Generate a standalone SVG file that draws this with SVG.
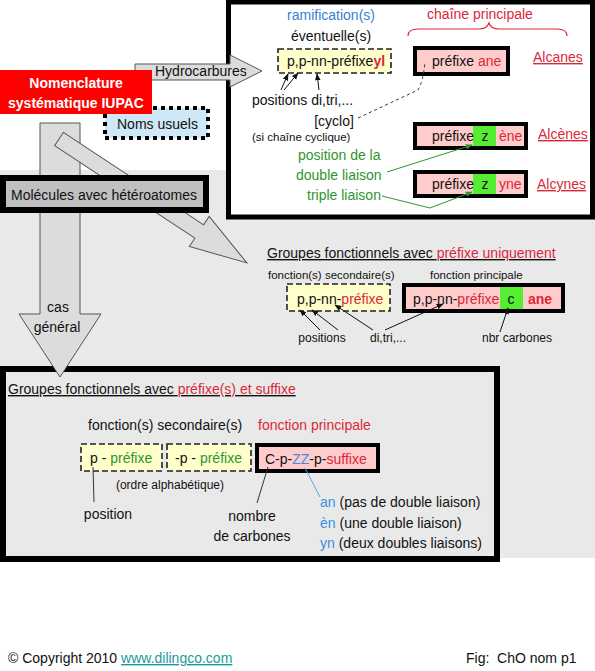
<svg xmlns="http://www.w3.org/2000/svg" width="595" height="671" viewBox="0 0 595 671">
<style>
text{font-family:"Liberation Sans",Arial,sans-serif;font-size:14px;fill:#111}
.s{font-size:11.5px}
.m{font-size:12px}
.r{fill:#d9283a}
.g{fill:#2e962e}
.b{fill:#3a7fd0}
.u{text-decoration:underline}
.c{text-anchor:middle}
.bigarrow{fill:#dcdcdc;stroke:#555;stroke-width:1}
.yel{fill:#ffffcc;stroke:#222;stroke-width:1.6;stroke-dasharray:6 3}
.pink{fill:#ffcccc;stroke:#000;stroke-width:4}
.green{fill:#55ee33}
.ln{fill:none;stroke:#111;stroke-width:1}
</style>
<defs>
<marker id="ah" viewBox="0 0 10 10" refX="9" refY="5" markerWidth="7" markerHeight="7" markerUnits="userSpaceOnUse" orient="auto"><path d="M0,1 L10,5 L0,9 Z" fill="#111"/></marker>
<marker id="ahg" viewBox="0 0 10 10" refX="9" refY="5" markerWidth="7" markerHeight="7" markerUnits="userSpaceOnUse" orient="auto"><path d="M0,1 L10,5 L0,9 Z" fill="#2e962e"/></marker>
</defs>
<rect width="595" height="671" fill="#fff"/>
<rect x="0" y="170" width="595" height="388" fill="#e9e9e9"/>

<g id="hydrocarbures-box">
<rect x="228.5" y="2" width="364" height="215" fill="#fff" stroke="#000" stroke-width="5"/>
<text x="331" y="20" class="c b">ramification(s)</text>
<text x="331" y="41" class="c">éventuelle(s)</text>
<rect x="278" y="49" width="113" height="24" class="yel"/>
<text x="287" y="66">p,p-nn-préfixe<tspan class="r" font-weight="bold">yl</tspan></text>
<text x="252" y="105">positions di,tri,...</text>
<text x="334" y="126" class="c">[cyclo]</text>
<text x="252" y="141" class="s">(si chaîne cyclique)</text>
<text x="480" y="19" class="c r">chaîne principale</text>
<path d="M408,36 Q408,29 418,29 L479,29 Q487,29 489,23 Q491,29 499,29 L557,29 Q567,29 567,36" fill="none" stroke="#d9283a" stroke-width="1.2"/>
<g id="alcanes">
<rect x="415" y="48" width="93" height="26" class="pink"/>
<text x="432" y="66">préfixe <tspan class="r">ane</tspan></text>
<text x="533" y="62" class="r u">Alcanes</text>
</g>
<g id="alcenes">
<rect x="415" y="124" width="111" height="24" class="pink"/>
<rect x="473" y="126" width="23" height="20" class="green"/>
<text x="432" y="141">préfixe</text>
<text x="485" y="141" class="c">z</text>
<text x="499" y="141" class="r">ène</text>
<text x="538" y="139" class="r u">Alcènes</text>
</g>
<g id="alcynes">
<rect x="415" y="172" width="111" height="24" class="pink"/>
<rect x="473" y="174" width="23" height="20" class="green"/>
<text x="432" y="189">préfixe</text>
<text x="485" y="189" class="c">z</text>
<text x="499" y="189" class="r">yne</text>
<text x="537" y="189" class="r u">Alcynes</text>
</g>
<text x="298" y="160" class="g">position de la</text>
<text x="296" y="180" class="g">double liaison</text>
<text x="307" y="200" class="g">triple liaison</text>
</g>

<g id="groupes-suffixe">
<rect x="3" y="369" width="494" height="190" fill="#e9e9e9" stroke="#000" stroke-width="6"/>
<text x="8" y="394" class="u">Groupes fonctionnels avec <tspan class="r">préfixe(s) et suffixe</tspan></text>
<text x="88" y="430" font-size="13.5">fonction(s) secondaire(s)</text>
<text x="258" y="430" class="r">fonction principale</text>
<rect x="81" y="444" width="81" height="27" class="yel"/>
<text x="90" y="463">p - <tspan class="g">préfixe</tspan></text>
<rect x="167" y="444" width="84" height="27" class="yel"/>
<text x="175" y="463">-p - <tspan class="g">préfixe</tspan></text>
<rect x="257" y="445" width="121" height="26" class="pink"/>
<text x="265" y="464">C-p-<tspan fill="#3a8fe0">ZZ</tspan>-p-<tspan class="r">suffixe</tspan></text>
<text x="170" y="489" class="c m">(ordre alphabétique)</text>
<text x="108" y="519" class="c">position</text>
<text x="252" y="521" class="c">nombre</text>
<text x="252" y="541" class="c">de carbones</text>
<text x="320" y="507"><tspan fill="#3a8fe0">an</tspan> (pas de double liaison)</text>
<text x="320" y="528"><tspan fill="#3a8fe0">èn</tspan> (une double liaison)</text>
<text x="320" y="548"><tspan fill="#3a8fe0">yn</tspan> (deux doubles liaisons)</text>
</g>

<g id="groupes-prefixe">
<text x="267" y="258" class="u">Groupes fonctionnels avec <tspan class="r">préfixe uniquement</tspan></text>
<text x="268" y="279" class="s">fonction(s) secondaire(s)</text>
<text x="430" y="279" class="s">fonction principale</text>
<rect x="287" y="284" width="103" height="27" class="yel"/>
<text x="297" y="304">p,p-nn-<tspan class="r">préfixe</tspan></text>
<rect x="404" y="285" width="159" height="26" class="pink"/>
<rect x="500" y="287" width="23" height="22" class="green"/>
<text x="413" y="304">p,p-nn-<tspan class="r">préfixe</tspan></text>
<text x="511" y="304" class="c">c</text>
<text x="528" y="304" class="r" font-weight="bold">ane</text>
<text x="322" y="342" class="c m">positions</text>
<text x="388" y="342" class="c m">di,tri,...</text>
<text x="517" y="342" class="c m">nbr carbones</text>
</g>

<g id="connectors">
<polygon class="bigarrow" points="40,123 80,123 80,314 101,314 60,377 19,314 40,314"/>
<polygon class="bigarrow" transform="translate(59,139) rotate(33.4)" points="0,-8 168,-8 168,-18 225,0 168,18 168,8 0,8"/>
<g stroke-width="1" fill="none">
<line x1="281" y1="90" x2="288" y2="74" class="ln" marker-end="url(#ah)"/>
<line x1="284" y1="90" x2="298" y2="73" class="ln" marker-end="url(#ah)"/>
<line x1="319" y1="90" x2="317" y2="74" class="ln" marker-end="url(#ah)"/>
<path d="M358,118 L418,90 Q423,82 425,62" stroke="#333" stroke-dasharray="3 3" fill="none"/>
<line x1="387" y1="172" x2="472" y2="145" stroke="#2e962e" marker-end="url(#ahg)"/>
<polyline points="382,196 430,208 472,192" stroke="#2e962e" fill="none" marker-end="url(#ahg)"/>
<line x1="320" y1="330" x2="300" y2="310" class="ln" marker-end="url(#ah)"/>
<line x1="338" y1="330" x2="312" y2="310" class="ln" marker-end="url(#ah)"/>
<line x1="373" y1="330" x2="335" y2="305" class="ln" marker-end="url(#ah)"/>
<line x1="385" y1="330" x2="443" y2="304" class="ln" marker-end="url(#ah)"/>
<line x1="500" y1="332" x2="508" y2="308" class="ln" marker-end="url(#ah)"/>
<line x1="93" y1="467" x2="94" y2="502" stroke="#333"/>
<line x1="257" y1="503" x2="268" y2="467" stroke="#333"/>
<line x1="305" y1="468" x2="320" y2="497" stroke="#5aa8e0"/>
</g>
<text x="58" y="312" class="c">cas</text>
<text x="57" y="332" class="c">général</text>
</g>

<g id="hydrocarbures-arrow">
<polygon class="bigarrow" points="135,64 230,64 230,55 262,71 230,87 230,80 135,80"/>
<text x="155" y="76">Hydrocarbures</text>
</g>

<g id="noms-usuels">
<rect x="105" y="108" width="103" height="30" fill="#cfe8f8" stroke="#000" stroke-width="4" stroke-dasharray="4 4"/>
<text x="117" y="129">Noms usuels</text>
</g>

<g id="iupac">
<rect x="0" y="70" width="152" height="44" fill="#ff0000"/>
<text x="76" y="88" class="c" font-weight="bold" font-size="13.6" style="fill:#fff">Nomenclature</text>
<text x="76" y="108" class="c" font-weight="bold" font-size="13.6" style="fill:#fff">systématique IUPAC</text>
</g>

<g id="heteroatomes">
<rect x="3" y="178" width="203" height="32" fill="#c0c0c0" stroke="#000" stroke-width="6"/>
<text x="104" y="200" class="c">Molécules avec hétéroatomes</text>
</g>

<g id="footer">
<text x="8" y="663" font-size="11.5">© Copyright 2010 <tspan fill="#1a9a9a" class="u">www.dilingco.com</tspan></text>
<text x="466" y="663" font-size="12" xml:space="preserve">Fig:  ChO nom p1</text>
</g>
</svg>
